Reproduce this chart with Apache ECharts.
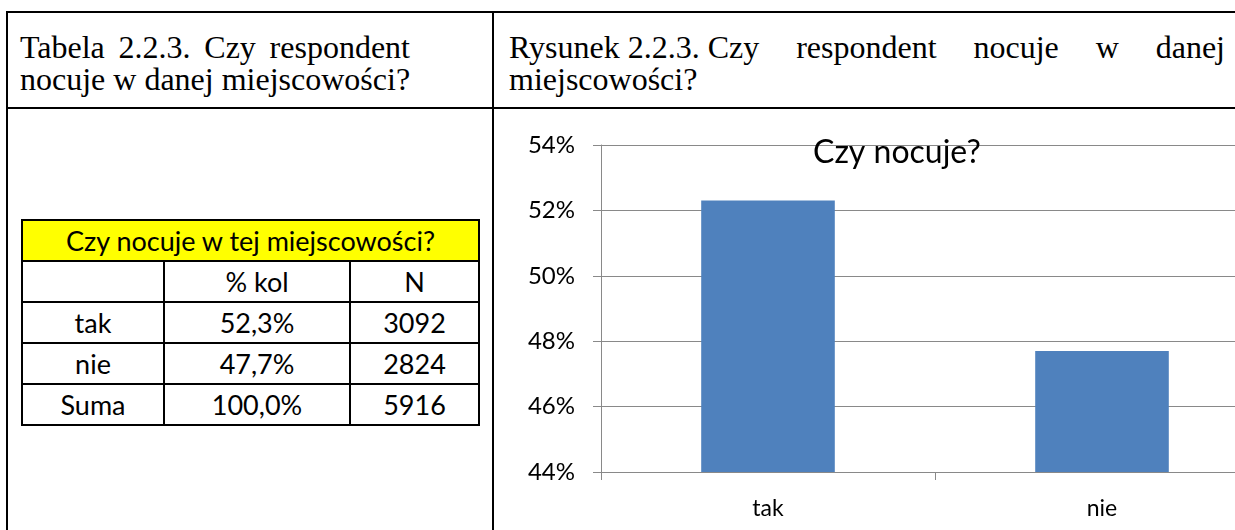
<!DOCTYPE html>
<html lang="pl">
<head>
<meta charset="UTF-8">
<title>Czy nocuje?</title>
<script src="https://cdn.jsdelivr.net/npm/echarts@6/dist/echarts.min.js"></script>
<style>
    body { margin: 0; width: 1235px; height: 530px; overflow: hidden; background: #fff; position: relative; }
    .ln { position: absolute; background: #000; }
    .head { position: absolute; font-family: "Liberation Serif", "Times New Roman", serif; font-size: 32px; line-height: 32px; color: #000; text-align: justify; text-align-last: left; }
    .nb { display: inline-block; }
    #tbl { position: absolute; left: 21px; top: 219px; border-collapse: collapse; font-family: Lato, "Noto Sans", sans-serif; font-size: 27px; color: #000; }
    #tbl td { border: 2px solid #000; height: 39px; padding: 0; text-align: center; }
    #tbl .yel { background: #ffff00; }
    #container { position: absolute; left: 494px; top: 109px; width: 806px; height: 421px; }
</style>
</head>
<body>
    <!-- ramka dokumentu -->
    <div class="ln" style="left:6px;top:11px;width:1240px;height:2px;"></div>
    <div class="ln" style="left:6px;top:107px;width:1240px;height:2px;"></div>
    <div class="ln" style="left:6px;top:11px;width:2px;height:530px;"></div>
    <div class="ln" style="left:492px;top:11px;width:2px;height:530px;"></div>

    <div class="head" style="left:20px;top:31px;width:390px;text-align-last:justify;">Tabela 2.2.3. Czy respondent</div>
    <div class="head" style="left:20px;top:63px;white-space:nowrap;">nocuje w danej miejscowości?</div>
    <div class="head" style="left:509px;top:31px;width:716px;"><span class="nb">Rysunek 2.2.3. Czy</span> respondent nocuje w danej miejscowości?</div>

    <table id="tbl"></table>
    <div id="container"></div>

<script type="text/javascript">
    // dane
    var categories = ['tak', 'nie'];
    var percents = [52.3, 47.7];
    var counts = [3092, 2824];
    var tableRows = [
        ['tak', '52,3%', '3092'],
        ['nie', '47,7%', '2824'],
        ['Suma', '100,0%', '5916']
    ];
    var yTicks = [44, 46, 48, 50, 52, 54];

    // tabela po lewej
    var html = '<tr><td class="yel" colspan="3">Czy nocuje w tej miejscowości?</td></tr>';
    html += '<tr><td style="width:140px"></td><td style="width:184px">% kol</td><td style="width:127px">N</td></tr>';
    tableRows.forEach(function (r) {
        html += '<tr><td>' + r[0] + '</td><td>' + r[1] + '</td><td>' + r[2] + '</td></tr>';
    });
    document.getElementById('tbl').innerHTML = html;

    var dom = document.getElementById('container');
    var myChart = echarts.init(dom, null, { renderer: 'canvas' });
    var grey = '#898989';

    var option = {
        animation: false,
        title: {
            text: 'Czy nocuje?',
            left: 314,
            top: 23,
            textStyle: { fontFamily: 'Lato', fontSize: 32, fontWeight: 'normal', color: '#000' }
        },
        grid: { left: 107, right: 31, top: 36, bottom: 58 },
        xAxis: {
            type: 'category',
            data: categories,
            axisLine: { lineStyle: { color: grey, width: 1 } },
            axisTick: { show: true, length: 8, interval: 0, lineStyle: { color: grey } },
            axisLabel: { margin: 25, fontFamily: 'Lato', fontSize: 23, color: '#000' }
        },
        yAxis: {
            type: 'value',
            min: yTicks[0],
            max: yTicks[yTicks.length - 1],
            interval: 2,
            axisLine: { show: true, lineStyle: { color: grey, width: 1 } },
            axisTick: { show: true, length: 8, lineStyle: { color: grey } },
            splitLine: { lineStyle: { color: grey, width: 1 } },
            axisLabel: { margin: 26, fontFamily: 'Lato', fontSize: 24, color: '#000', formatter: '{value}%' }
        },
        series: [{
            type: 'bar',
            data: percents,
            barWidth: '40%',
            itemStyle: { color: '#4f81bd' }
        }]
    };
    myChart.setOption(option);
</script>
</body>
</html>
